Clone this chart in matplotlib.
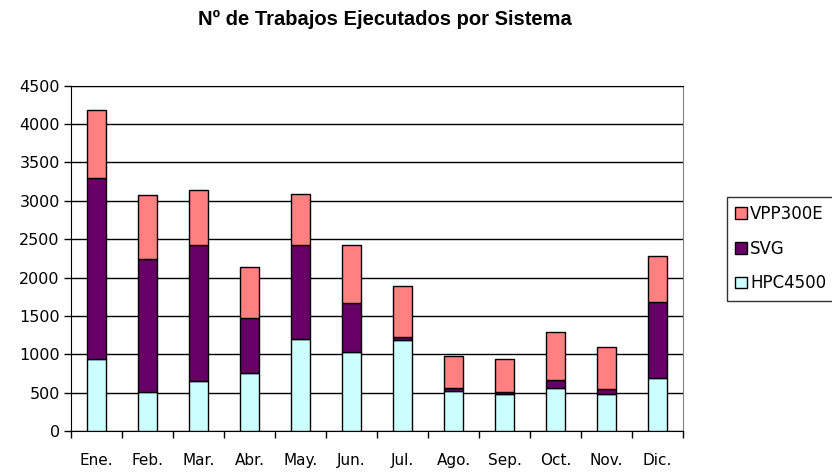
import numpy as np
import matplotlib.pyplot as plt
from matplotlib.patches import Patch

plt.rcParams['font.family'] = ['DejaVu Sans']

meses = ['Ene.', 'Feb.', 'Mar.', 'Abr.', 'May.', 'Jun.', 'Jul.', 'Ago.', 'Sep.', 'Oct.', 'Nov.', 'Dic.']
hpc4500 = [934, 510, 655, 750, 1195, 1035, 1185, 525, 480, 565, 480, 685]
svg = [2360, 1730, 1770, 725, 1230, 630, 35, 30, 25, 100, 70, 990]
vpp300e = [890, 835, 715, 665, 670, 760, 670, 425, 435, 620, 540, 605]

c_hpc = '#CCFFFF'
c_svg = '#660066'
c_vpp = '#FF8080'

fig = plt.figure(figsize=(8.32, 4.72), dpi=100)
ax = fig.add_axes([0.0853, 0.0869, 0.7357, 0.7315])

x = np.arange(len(meses))
w = 0.36
hpc = np.array(hpc4500)
sv = np.array(svg)
ax.bar(x, hpc, w, color=c_hpc, edgecolor='black', linewidth=1, zorder=3)
ax.bar(x, sv, w, bottom=hpc, color=c_svg, edgecolor='black', linewidth=1, zorder=3)
ax.bar(x, vpp300e, w, bottom=hpc + sv, color=c_vpp, edgecolor='black', linewidth=1, zorder=3)

ax.set_xlim(-0.5, len(meses) - 0.5)
ax.set_ylim(0, 4500)
ax.set_yticks(range(0, 4501, 500))
ax.yaxis.grid(True, color='black', linewidth=1)
ax.set_axisbelow(True)

ax.set_xticks(x)
ax.set_xticklabels(meses, fontsize=11)
ax.tick_params(axis='x', length=0, pad=16)
ax.set_xticks(np.arange(-0.5, len(meses)), minor=True)
ax.tick_params(axis='x', which='minor', length=5, width=1, direction='out')
ax.tick_params(axis='y', labelsize=11.5, length=5, width=1, direction='out', pad=3)

for s in ['left', 'bottom', 'top']:
    ax.spines[s].set_color('black')
ax.spines['right'].set_color('#808080')

fig.text(0.462, 0.958, 'Nº de Trabajos Ejecutados por Sistema',
         ha='center', va='center', fontsize=14.5, fontweight='bold',
         family=['Liberation Sans', 'DejaVu Sans'])

handles = [Patch(facecolor=c_vpp, edgecolor='black', label='VPP300E'),
           Patch(facecolor=c_svg, edgecolor='black', label='SVG'),
           Patch(facecolor=c_hpc, edgecolor='black', label='HPC4500')]
leg = fig.legend(handles=handles, loc='upper left', bbox_to_anchor=(0.8738, 0.583),
                 fontsize=12, frameon=True, fancybox=False, edgecolor='black',
                 handlelength=0.7, handleheight=0.7, handletextpad=0.2,
                 borderpad=0.5, labelspacing=1.0, borderaxespad=0)
leg.get_frame().set_linewidth(1)

fig.savefig('out.png', dpi=100)
